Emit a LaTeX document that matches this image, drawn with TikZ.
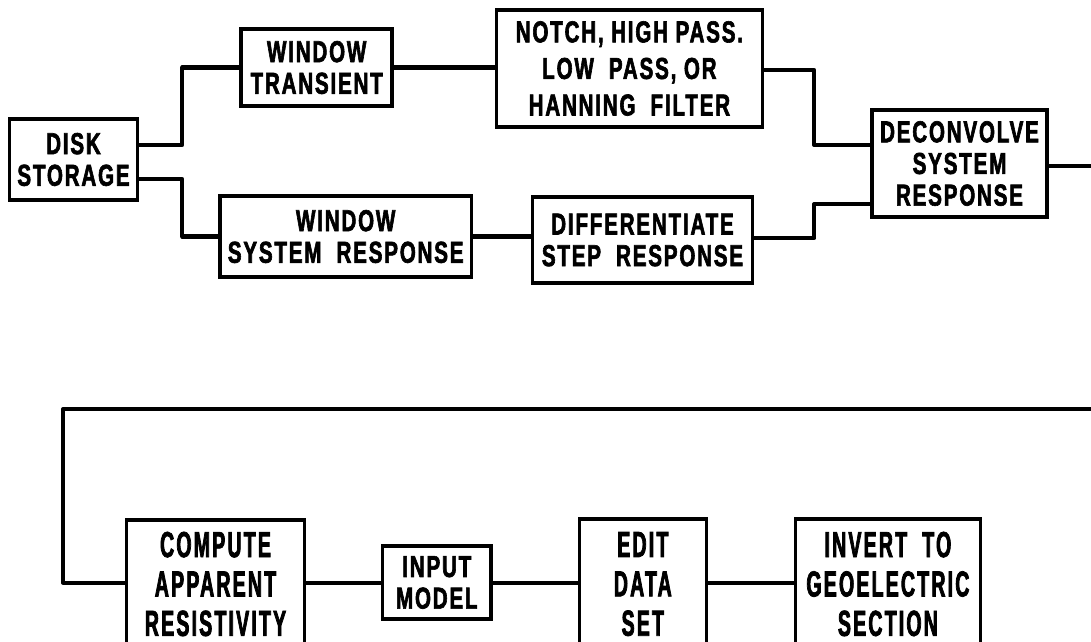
\documentclass[tikz,border=0pt]{standalone}
\usepackage{fontspec}
\newfontfamily\boxfont{Liberation Sans}[FakeStretch=0.68,LetterSpace=6,BoldFeatures={FakeBold=2}]
\newfontfamily\lowfont{Liberation Sans}[FakeStretch=0.54,LetterSpace=6,BoldFeatures={FakeBold=2}]
\usetikzlibrary{positioning}

\begin{document}
\begin{tikzpicture}[
  x=0.01cm, y=-0.01cm,
  stage/.style={draw=black, line width=1pt, fill=white, align=center, inner sep=0pt,
    font=\boxfont\bfseries\fontsize{8.6}{9}\selectfont},
  stagebig/.style={stage, font=\lowfont\bfseries\fontsize{10.3}{11.2}\selectfont},
  wire/.style={line width=1.15pt, line join=round}
]

  \useasboundingbox (0,0) rectangle (1091,641);
  \clip (0,0) rectangle (1091,641);

  % upper chain
  \node[stage, minimum width=1.28cm, minimum height=0.81cm] (disk) at (73.5,159.5) {DISK\\STORAGE};
  \node[stage, minimum width=1.51cm, minimum height=0.77cm] (wtrans) at (316.7,67.5) {WINDOW\\TRANSIENT};
  \node[stage, minimum width=2.51cm, minimum height=0.81cm] (wsys) at (345.7,236.5) {WINDOW\\SYSTEM\ \ RESPONSE};
  \node[stage, minimum width=2.66cm, minimum height=1.17cm, font=\boxfont\bfseries\fontsize{8.6}{10.4}\selectfont]
    (filter) at (629.4,68.5) {NOTCH, HIGH PASS.\\LOW\ \ PASS, OR\\HANNING\ \ FILTER};
  \node[stage, minimum width=2.20cm, minimum height=0.86cm] (diff) at (642.5,240) {DIFFERENTIATE\\STEP\ \ RESPONSE};
  \node[stage, minimum width=1.75cm, minimum height=1.07cm] (decon) at (959.5,163.5) {DECONVOLVE\\SYSTEM\\RESPONSE};

  % lower chain (boxes run off the bottom edge)
  \node[stagebig, minimum width=1.78cm, minimum height=1.28cm] (compute) at (215.5,584) {COMPUTE\\APPARENT\\RESISTIVITY};
  \node[stage, minimum width=1.085cm, minimum height=0.73cm] (input) at (436.8,582.5) {INPUT\\MODEL};
  \node[stagebig, minimum width=1.27cm, minimum height=1.30cm] (edit) at (642.8,584) {EDIT\\DATA\\SET};
  \node[stagebig, minimum width=1.85cm, minimum height=1.30cm] (invert) at (887.9,584) {INVERT\ \ TO\\GEOELECTRIC\\SECTION};

  \coordinate (outA) at (1095,166);
  \coordinate (inB) at (1095,409);
  \coordinate (turn) at (63,409);

  % connectors
  \draw[wire] ([yshift=0.145cm]disk.east) -- ++(43,0) |- (wtrans.west);
  \draw[wire] ([yshift=-0.195cm]disk.east) -- ++(43,0) |- (wsys.west);
  \draw[wire] (wtrans.east) -- (wtrans.east -| filter.west);
  \draw[wire] (wsys.east) -- (wsys.east -| diff.west);
  \draw[wire] ([yshift=-0.015cm]filter.east) -- ++(50,0) |- ([yshift=0.185cm]decon.west);
  \draw[wire] ([yshift=0.02cm]diff.east) -- ++(60,0) |- ([yshift=-0.405cm]decon.west);
  \draw[wire] (decon.east |- outA) -- (outA);

  \draw[wire] (inB) -- (turn) |- (input.west -| compute.west);
  \draw[wire] (input.west -| compute.east) -- (input.west);
  \draw[wire] (input.east) -- (input.east -| edit.west);
  \draw[wire] (input.east -| edit.east) -- (input.east -| invert.west);

\end{tikzpicture}
\end{document}
